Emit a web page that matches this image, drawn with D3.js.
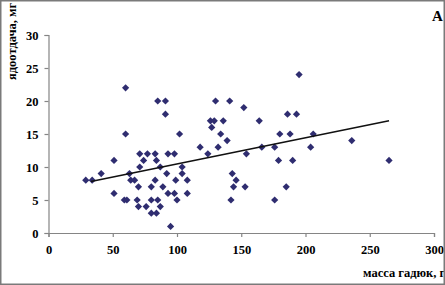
<!DOCTYPE html>
<html><head><meta charset="utf-8">
<script src="https://cdn.jsdelivr.net/npm/d3@7"></script>
<style>body{margin:0;background:#fff}svg{display:block}text{font-family:"Liberation Serif","Times New Roman",serif;font-weight:bold;fill:#000}</style>
</head><body>
<script>
// Data: viper mass (g) vs venom yield (mg)
const massX = [195, 60, 85, 91, 130, 141, 152, 91, 186, 193, 126, 129, 136, 164, 127,
  60, 102, 134, 180, 188, 206, 139, 236, 118, 132, 166, 176, 204,
  71, 77, 83, 93, 98, 124, 154, 51, 74, 84, 179, 190, 265, 71, 87, 104,
  41, 63, 92, 104, 143, 29, 34, 64, 67, 83, 99, 108, 146,
  70, 80, 89, 144, 153, 185, 51, 93, 98, 108,
  59, 61, 69, 80, 85, 100, 142, 176, 70, 76, 87, 80, 84, 95];
const venomY = [24, 22, 20, 20, 20, 20, 19, 18, 18, 18, 17, 17, 17, 17, 16,
  15, 15, 15, 15, 15, 15, 14, 14, 13, 13, 13, 13, 13,
  12, 12, 12, 12, 12, 12, 12, 11, 11, 11, 11, 11, 11, 10, 10, 10,
  9, 9, 9, 9, 9, 8, 8, 8, 8, 8, 8, 8, 8,
  7, 7, 7, 7, 7, 7, 6, 6, 6, 6,
  5, 5, 5, 5, 5, 5, 5, 5, 4, 4, 4, 3, 3, 1];
const trendX = [33, 265];
const trendY = [7.8, 17.0];
const xTicks = [0, 50, 100, 150, 200, 250, 300];
const yTicks = [0, 5, 10, 15, 20, 25, 30];
const xTitle = "масса гадюк, г";
const yTitle = "ядоотдача, мг";
const panelLabel = "A";

const W = 445, H = 285;
const svg = d3.select("body").append("svg").attr("width", W).attr("height", H);
svg.append("defs").append("clipPath").attr("id", "frame")
  .append("rect").attr("x", 1).attr("y", 1).attr("width", 443).attr("height", 283);
const g = svg.append("g").attr("clip-path", "url(#frame)");

const x = d3.scaleLinear().domain([0, 300]).range([48.5, 434]);
const y = d3.scaleLinear().domain([0, 30]).range([233, 35]);

// axes
const xAxis = g.append("g").attr("transform", `translate(0,${y(0)})`)
  .call(d3.axisBottom(x).tickValues(xTicks).tickSize(4).tickPadding(5));
const yAxis = g.append("g").attr("transform", `translate(${x(0)},0)`)
  .call(d3.axisLeft(y).tickValues(yTicks).tickSize(4).tickPadding(6));
[xAxis, yAxis].forEach(a => {
  a.select(".domain").attr("stroke", "#858585").attr("stroke-width", 1.2);
  a.selectAll(".tick line").attr("stroke", "#858585").attr("stroke-width", 1.2);
  a.selectAll(".tick text").attr("font-family", '"Liberation Serif",serif')
    .attr("font-weight", "bold").attr("font-size", 12.5).attr("fill", "#111");
});
xAxis.selectAll(".tick text").attr("dy", "0.95em");

// points (rotated squares = diamonds)
const pts = massX.map((m, i) => [m, venomY[i]]);
g.append("g").selectAll("path").data(pts).join("path")
  .attr("transform", d => `translate(${x(d[0])},${y(d[1])}) rotate(45)`)
  .attr("d", d3.symbol(d3.symbolSquare, 26)())
  .attr("fill", "#2f2d70");

// trend line
g.append("line")
  .attr("x1", x(trendX[0])).attr("y1", y(trendY[0]))
  .attr("x2", x(trendX[1])).attr("y2", y(trendY[1]))
  .attr("stroke", "#111").attr("stroke-width", 1.6);

// titles
g.append("text").attr("transform", `translate(16,80) rotate(-90)`)
  .attr("font-size", 12.5).text(yTitle);
g.append("text").attr("x", 363).attr("y", 277).attr("font-size", 12.5).text(xTitle);
g.append("text").attr("x", 432).attr("y", 21).attr("font-size", 15).text(panelLabel);

// frame
svg.append("rect").attr("x", 0.75).attr("y", 0.75).attr("width", 443.5).attr("height", 283.5)
  .attr("fill", "none").attr("stroke", "#7a7a7a").attr("stroke-width", 1.5);
</script>
</body></html>
